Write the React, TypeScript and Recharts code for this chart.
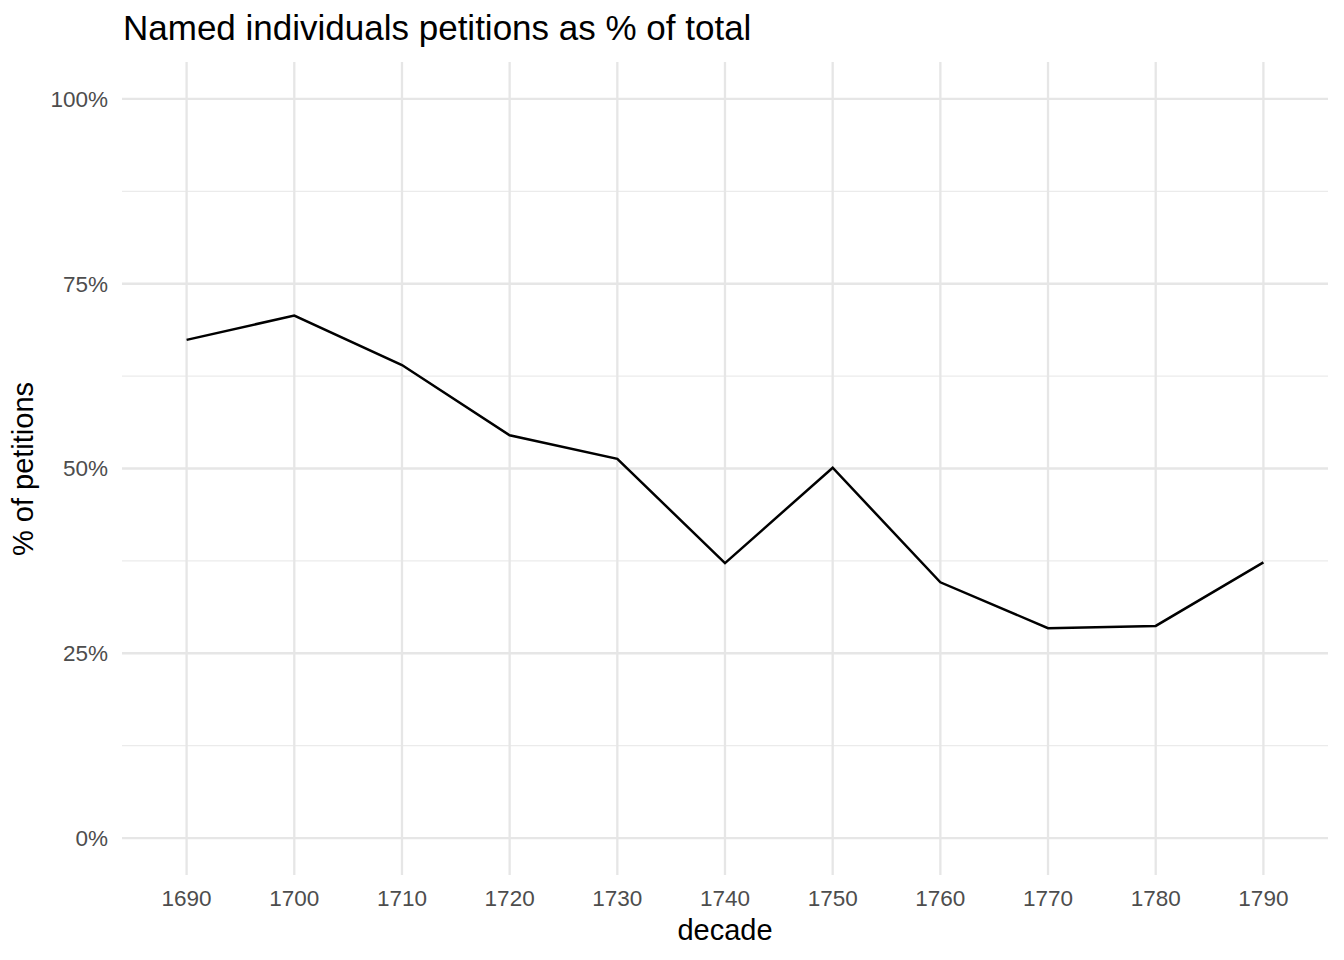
import { CartesianGrid, XAxis, YAxis, Line, LineChart } from "recharts";

const decades = [1690, 1700, 1710, 1720, 1730, 1740, 1750, 1760, 1770, 1780, 1790];
const namedShare = [67.4, 70.7, 64.0, 54.5, 51.3, 37.2, 50.1, 34.6, 28.4, 28.7, 37.3];
const yTicks = [0, 25, 50, 75, 100];
const yMinor = [12.5, 37.5, 62.5, 87.5];

const data = decades.map((decade, i) => ({ decade, share: namedShare[i] }));

const font = '"Liberation Sans", Arial, Helvetica, sans-serif';

export default function App() {
    return <div style={{ position: 'fixed', left: 0, top: 0, width: 1344, height: 960, background: '#fff', fontFamily: font }}>
        <LineChart width={1344} height={960} data={data}
            margin={{ top: 62, right: 16, bottom: 25, left: 0 }}>
            <CartesianGrid horizontalValues={yMinor} vertical={false} stroke="#EBEBEB" strokeWidth={1.2} />
            <CartesianGrid horizontalValues={yTicks} verticalValues={decades} stroke="#E6E6E6" strokeWidth={2.3} />
            <XAxis dataKey="decade" type="number" domain={[1684, 1796]} ticks={decades}
                axisLine={false} tickLine={false} tickSize={0} tickMargin={15} height={60}
                tick={{ fill: '#4D4D4D', fontSize: 22.5, fontFamily: font }} />
            <YAxis type="number" domain={[-5, 105]} ticks={yTicks} allowDataOverflow
                tickFormatter={(v: number) => `${v}%`}
                axisLine={false} tickLine={false} tickSize={0} tickMargin={14} width={122}
                tick={{ fill: '#4D4D4D', fontSize: 22.5, fontFamily: font }} />
            <Line type="linear" dataKey="share" stroke="#000" strokeWidth={2.5} dot={false}
                isAnimationActive={false} />
        </LineChart>
        <svg width={1344} height={960} style={{ position: 'absolute', left: 0, top: 0, pointerEvents: 'none' }}>
            <text x={123} y={40} fontSize={35} fill="#000" fontFamily={font}>Named individuals petitions as % of total</text>
            <text x={725} y={940} fontSize={29} fill="#000" fontFamily={font} textAnchor="middle">decade</text>
            <text x={33} y={469} fontSize={29} fill="#000" fontFamily={font} textAnchor="middle"
                transform="rotate(-90 33 469)">% of petitions</text>
        </svg>
    </div>
}
